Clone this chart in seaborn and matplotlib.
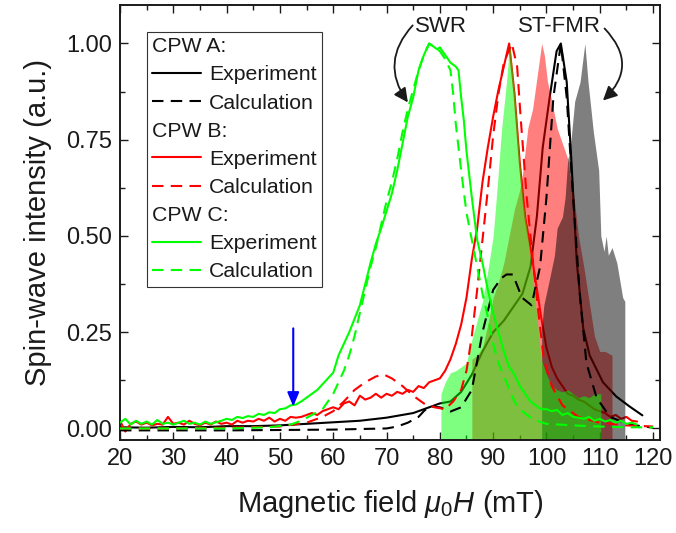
import numpy as np
import pandas as pd
import matplotlib
matplotlib.use("Agg")
import matplotlib.pyplot as plt
import seaborn as sns
from matplotlib.lines import Line2D
from matplotlib.text import Text
from matplotlib.legend_handler import HandlerBase
from matplotlib.ticker import MultipleLocator, FormatStrFormatter

# ---------------- data ----------------
# CPW A (black)
a_exp_x = [20, 25, 30, 35, 40, 45, 50, 55, 60, 65, 70, 75, 78, 80, 82, 84, 86, 88, 90, 92, 94,
           95.5, 97, 98.2, 99.3, 100.6, 101.9, 102.7, 103.8, 104.7, 105.7, 106.9, 108.1, 110.6,
           113.1, 115.6, 118]
a_exp_y = [0.003, 0.002, 0.004, 0.003, 0.006, 0.006, 0.008, 0.012, 0.016, 0.02, 0.028, 0.04,
           0.055, 0.065, 0.07, 0.095, 0.14, 0.2, 0.25, 0.28, 0.32, 0.35, 0.42, 0.55, 0.73, 0.86,
           0.98, 1.0, 0.9, 0.69, 0.43, 0.26, 0.19, 0.12, 0.083, 0.057, 0.034]
a_calc_x = [20, 30, 40, 50, 60, 70, 72, 74, 76, 77, 78, 80, 82, 84, 86, 88, 90, 91.5, 92.5,
            93.7, 95.4, 97.2, 98.8, 100, 101.3, 102.7, 103.8, 105, 106.3, 107.5, 109.4, 111.9,
            115.6, 120]
a_calc_y = [-0.005, -0.005, -0.005, -0.004, -0.003, 0.0, 0.005, 0.015, 0.03, 0.045, 0.057,
            0.055, 0.044, 0.055, 0.1, 0.25, 0.36, 0.39, 0.40, 0.40, 0.34, 0.32, 0.42, 0.6, 0.86,
            1.0, 0.86, 0.6, 0.34, 0.17, 0.08, 0.03, 0.01, 0.002]

# CPW B (red)
b_exp_x = list(range(20, 118))
b_exp_y = [0.02, -0.008, 0.012, 0.018, 0.01, 0.015, 0.008, 0.012, 0.01, 0.03,
           0.012, 0.015, 0.01, 0.02, 0.012, 0.008, 0.015, 0.01, 0.018, 0.012,
           0.015, 0.01, 0.02, 0.015, 0.02, 0.018, 0.025, 0.02, 0.028, 0.018,
           0.025, 0.02, 0.03, 0.028, 0.03, 0.035, 0.04, 0.035, 0.045, 0.05,
           0.055, 0.05, 0.065, 0.07, 0.06, 0.085, 0.075, 0.08, 0.09, 0.08,
           0.09, 0.085, 0.095, 0.09, 0.1, 0.095, 0.11, 0.105, 0.12, 0.125,
           0.13, 0.15, 0.18, 0.22, 0.27, 0.34, 0.44, 0.52, 0.64, 0.73,
           0.81, 0.88, 0.94, 1.0, 0.87, 0.69, 0.55, 0.47, 0.38, 0.29,
           0.21, 0.16, 0.13, 0.11, 0.09, 0.085, 0.075, 0.07, 0.06, 0.05,
           0.045, 0.04, 0.03, 0.035, 0.025, 0.03, 0.02, 0.018]
b_calc_x = [20, 30, 40, 50, 55, 58, 60, 62, 64, 66, 68, 69.5, 71, 73, 75, 77, 79, 81, 82.5, 84,
            85, 86, 87, 88, 89, 90, 91, 92, 93.5, 94.5, 95.2, 96.3, 97.5, 98.5, 99.5, 101, 103,
            106, 110, 115, 120]
b_calc_y = [0.0, 0.0, 0.002, 0.005, 0.015, 0.03, 0.045, 0.07, 0.1, 0.12, 0.135, 0.14, 0.13,
            0.11, 0.085, 0.065, 0.055, 0.05, 0.07, 0.1, 0.15, 0.24, 0.36, 0.49, 0.62, 0.76,
            0.87, 0.95, 1.0, 0.94, 0.8, 0.6, 0.43, 0.3, 0.18, 0.11, 0.06, 0.03, 0.015, 0.008,
            0.005]

# CPW C (green)
c_exp_x = (list(range(20, 78)) + [78, 78.5, 79, 79.5, 80, 81, 82, 83, 83.5, 84, 84.5]
           + list(range(85, 118)))
c_exp_y = [0.015, 0.025, 0.01, 0.02, 0.012, 0.018, 0.01, 0.022, 0.012, 0.015,
           0.01, 0.015, 0.02, 0.012, 0.015, 0.01, 0.018, 0.012, 0.016, 0.02,
           0.025, 0.022, 0.03, 0.027, 0.032, 0.03, 0.038, 0.035, 0.042, 0.04,
           0.05, 0.052, 0.06, 0.062, 0.07, 0.08, 0.09, 0.1, 0.115, 0.13,
           0.145, 0.19, 0.22, 0.25, 0.285, 0.32, 0.375, 0.43, 0.48, 0.52,
           0.565, 0.61, 0.67, 0.74, 0.81, 0.86, 0.93, 0.97,
           1.0, 0.995, 0.99, 0.985, 0.99, 0.97, 0.95, 0.94, 0.93, 0.86, 0.8,
           0.72, 0.6, 0.49, 0.43, 0.36, 0.3, 0.25, 0.2, 0.16, 0.14,
           0.11, 0.09, 0.07, 0.06, 0.05, 0.05, 0.045, 0.048, 0.035, 0.04,
           0.03, 0.028, 0.025, 0.03, 0.02, 0.025, 0.018, 0.022, 0.015, 0.02,
           0.012, 0.015, 0.01]
c_calc_x = [20, 30, 40, 48, 52, 54, 56, 58, 60, 61, 62, 63, 64, 65, 66, 67, 68, 69, 70, 71, 72,
            73, 74, 75, 76, 77, 78, 80, 81, 82, 82.5, 83, 84, 85, 86, 87, 88, 89, 90, 91, 92.5,
            94, 95, 97.5, 100, 105, 110, 115, 120]
c_calc_y = [0.0, 0.0, 0.0, 0.003, 0.01, 0.02, 0.035, 0.05, 0.09, 0.12, 0.15, 0.19, 0.24, 0.3,
            0.36, 0.42, 0.47, 0.53, 0.59, 0.64, 0.7, 0.77, 0.83, 0.88, 0.93, 0.97, 1.0, 0.98,
            0.96, 0.93, 0.87, 0.79, 0.67, 0.56, 0.49, 0.42, 0.35, 0.29, 0.22, 0.17, 0.12, 0.07,
            0.05, 0.023, 0.012, 0.008, 0.005, 0.003, 0.003]

# shaded ST-FMR distributions
fill_c_x = [80.2, 81, 82, 83, 84, 85, 86, 87, 88, 89, 90, 90.6, 91.6, 92.5, 93.1, 94.1, 95,
            95.6, 96.5, 97.5, 98.5, 99, 100, 101, 102, 103, 104, 105, 106, 107, 108, 109, 110.2]
fill_c_y = [0.09, 0.12, 0.145, 0.15, 0.16, 0.17, 0.23, 0.28, 0.33, 0.41, 0.5, 0.6, 0.78, 0.9,
            1.0, 0.86, 0.69, 0.59, 0.5, 0.38, 0.25, 0.18, 0.14, 0.11, 0.1, 0.095, 0.1, 0.09,
            0.08, 0.085, 0.08, 0.09, 0.09]
fill_b_x = [86, 87, 88, 89, 90, 91, 92, 93, 94, 95, 95.5, 96, 96.5, 97.4, 98.2, 99.1, 99.6,
            100.2, 101, 102, 103, 104, 104.4, 105, 106, 107, 108, 109, 110, 111, 112.3]
fill_b_y = [0.18, 0.19, 0.21, 0.27, 0.34, 0.38, 0.43, 0.5, 0.57, 0.62, 0.66, 0.72, 0.78, 0.83,
            0.91, 1.0, 0.97, 0.9, 0.85, 0.78, 0.74, 0.7, 0.66, 0.62, 0.5, 0.42, 0.33, 0.24,
            0.2, 0.2, 0.19]
fill_a_x = [99.1, 99.5, 100.6, 101.5, 102, 103, 103.5, 104, 104.4, 105.3, 106.3, 107.2, 107.8,
            108.8, 109.8, 110.2, 110.8, 111.2, 111.6, 112.3, 113.2, 114.3, 114.7]
fill_a_y = [0.26, 0.32, 0.39, 0.45, 0.52, 0.55, 0.6, 0.70, 0.72, 0.85, 0.9, 1.0, 0.9, 0.77,
            0.67, 0.5, 0.46, 0.5, 0.45, 0.47, 0.43, 0.34, 0.33]

x_ticks = [20, 30, 40, 50, 60, 70, 80, 90, 100, 110, 120]
y_ticks = [0.0, 0.25, 0.5, 0.75, 1.0]

# ---------------- style ----------------
sns.set_theme(style="ticks")
plt.rcParams["font.family"] = ["Liberation Sans", "DejaVu Sans"]
plt.rcParams["mathtext.fontset"] = "custom"
plt.rcParams["mathtext.rm"] = "Liberation Sans"
plt.rcParams["mathtext.it"] = "Liberation Sans:italic"
for key in ["text.color", "axes.labelcolor", "xtick.color", "ytick.color",
            "axes.edgecolor", "xtick.labelcolor", "ytick.labelcolor"]:
    plt.rcParams[key] = "black"

BLACK, RED, GREEN = "#000000", "#ff0000", "#00ff00"
LW = 1.5
DASH = (0, (5.5, 3.5))

fig = plt.figure(figsize=(6.76, 5.33), dpi=100)
ax = fig.add_axes([120 / 676, 93 / 533, 540 / 676, 435 / 533])

YMIN, YMAX = -0.03, 1.1

# lines under the fills
sns.lineplot(x=a_exp_x, y=a_exp_y, ax=ax, color=BLACK, lw=LW, zorder=1.5, legend=False)
sns.lineplot(x=b_exp_x, y=b_exp_y, ax=ax, color=RED, lw=LW, zorder=1.5, legend=False)

# fills (red, black, green order)
ax.fill_between(fill_b_x, fill_b_y, YMIN, color=RED, alpha=0.5, lw=0, zorder=2)
ax.fill_between(fill_a_x, fill_a_y, YMIN, color=BLACK, alpha=0.5, lw=0, zorder=2.1)
ax.fill_between(fill_c_x, fill_c_y, YMIN, color=GREEN, alpha=0.5, lw=0, zorder=2.2)

# lines on top
sns.lineplot(x=a_calc_x, y=a_calc_y, ax=ax, color=BLACK, lw=LW, linestyle=DASH, zorder=3, legend=False)
sns.lineplot(x=b_calc_x, y=b_calc_y, ax=ax, color=RED, lw=LW, linestyle=DASH, zorder=3, legend=False)
sns.lineplot(x=c_exp_x, y=c_exp_y, ax=ax, color=GREEN, lw=LW, zorder=3, legend=False)
sns.lineplot(x=c_calc_x, y=c_calc_y, ax=ax, color=GREEN, lw=LW, linestyle=DASH, zorder=3, legend=False)

ax.set_xlim(20, 121.3)
ax.set_ylim(YMIN, YMAX)
ax.set_xticks(x_ticks)
ax.set_yticks(y_ticks)
ax.xaxis.set_minor_locator(MultipleLocator(5))
ax.yaxis.set_minor_locator(MultipleLocator(0.125))
ax.yaxis.set_major_formatter(FormatStrFormatter("%.2f"))
ax.tick_params(which="both", direction="in", top=True, right=True, width=1.0, color="k",
               labelcolor="k", labelsize=17, pad=6)
ax.tick_params(which="major", length=6)
ax.tick_params(which="minor", length=3.6)
for s in ax.spines.values():
    s.set_linewidth(1.4)
    s.set_color("k")

ax.set_xlabel(r"Magnetic field $\mathit{\mu_0 H}$ (mT)", fontsize=21, labelpad=13, color="k")
ax.set_ylabel("Spin-wave intensity (a.u.)", fontsize=21, labelpad=10, color="k")

# annotations
ax.text(80.2, 1.044, "SWR", fontsize=16, ha="center", va="center", zorder=5, color="k")
ax.text(102.4, 1.044, "ST-FMR", fontsize=16, ha="center", va="center", zorder=5, color="k")
ax.annotate("", xy=(74.0, 0.847), xytext=(74.9, 1.047),
            arrowprops=dict(arrowstyle="-|>,head_length=0.6,head_width=0.3", color="k", lw=1.3,
                            mutation_scale=14, connectionstyle="arc3,rad=0.4",
                            shrinkA=0, shrinkB=0), zorder=5)
ax.annotate("", xy=(110.6, 0.852), xytext=(110.9, 1.039),
            arrowprops=dict(arrowstyle="-|>,head_length=0.6,head_width=0.3", color="k", lw=1.3,
                            mutation_scale=14, connectionstyle="arc3,rad=-0.5",
                            shrinkA=0, shrinkB=0), zorder=5)
ax.annotate("", xy=(52.5, 0.057), xytext=(52.5, 0.26),
            arrowprops=dict(arrowstyle="-|>,head_length=0.6,head_width=0.25", color="#0000ff",
                            lw=1.5, mutation_scale=14, shrinkA=0, shrinkB=0), zorder=5)


# legend with left-aligned group headers
class Header:
    def __init__(self, text):
        self.text = text


class HeaderHandler(HandlerBase):
    def legend_artist(self, legend, orig_handle, fontsize, handlebox):
        t = Text(0, 0, orig_handle.text, fontsize=fontsize, ha="left", va="baseline",
                 color="k")
        handlebox.add_artist(t)
        return t


def line_proxy(color, ls):
    return Line2D([], [], color=color, lw=LW, linestyle=ls)


handles = [Header("CPW A:"), line_proxy(BLACK, "-"), line_proxy(BLACK, DASH),
           Header("CPW B:"), line_proxy(RED, "-"), line_proxy(RED, DASH),
           Header("CPW C:"), line_proxy(GREEN, "-"), line_proxy(GREEN, DASH)]
labels = ["", "Experiment", "Calculation", "", "Experiment", "Calculation",
          "", "Experiment", "Calculation"]
leg = ax.legend(handles, labels, handler_map={Header: HeaderHandler()},
                loc="upper left", bbox_to_anchor=(0.05, 0.938), borderaxespad=0,
                fontsize=15.3, handlelength=2.3, handletextpad=0.38, borderpad=0.25,
                labelspacing=0.43, frameon=True, fancybox=False, framealpha=1,
                edgecolor="#333333")
leg.get_frame().set_linewidth(0.8)
for t in leg.get_texts():
    t.set_color("k")
leg.set_zorder(6)

fig.savefig("out.png", dpi=100)
